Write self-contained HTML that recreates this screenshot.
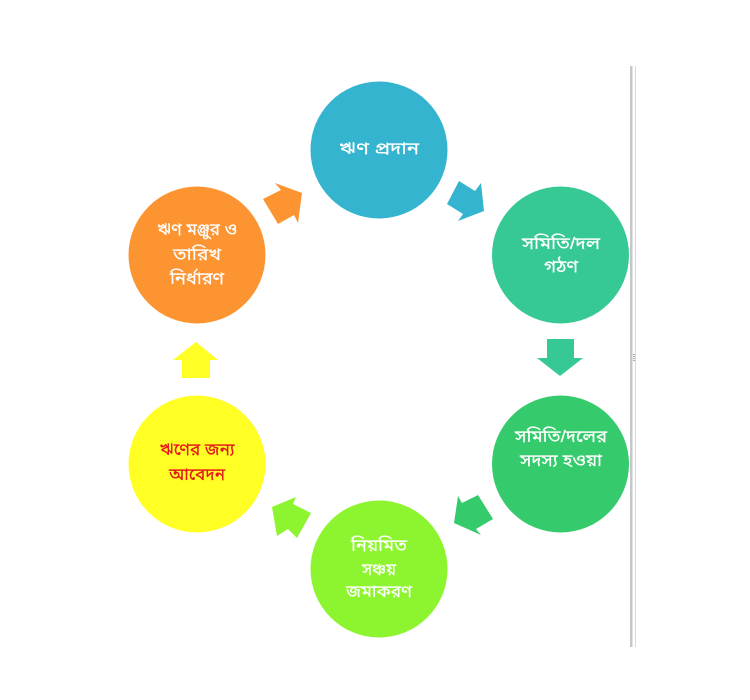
<!DOCTYPE html>
<html><head><meta charset="utf-8"><style>
html,body{margin:0;padding:0;background:#fff;width:750px;height:700px;overflow:hidden}
svg{display:block}
text{font-family:"Liberation Sans","Noto Sans Bengali","Lohit Bengali","Noto Sans CJK SC",sans-serif;font-size:17px;text-anchor:middle;fill:#fff;stroke:#fff;stroke-width:.2px}
.r{fill:#E5171C;stroke:#E5171C}
</style></head><body>
<svg width="750" height="700" viewBox="0 0 750 700" xmlns="http://www.w3.org/2000/svg">
<rect width="750" height="700" fill="#fff"/>
<rect x="630" y="66" width="2.5" height="581" fill="#c4c8c8"/>
<rect x="635" y="66" width="1" height="581" fill="#d4dada"/>
<g fill="#a8acac"><rect x="633" y="354" width="2" height="1"/><rect x="633" y="356" width="2" height="1"/><rect x="633" y="358" width="2" height="1"/><rect x="633" y="360" width="2" height="1"/></g>
<circle cx="379" cy="150" r="68.5" fill="#35B4D0"/>
<circle cx="560.5" cy="255" r="68.5" fill="#37C994"/>
<circle cx="560.5" cy="464" r="68.5" fill="#35CB6C"/>
<circle cx="379" cy="569" r="68.5" fill="#8DF52F"/>
<circle cx="197" cy="464" r="68.5" fill="#FFFF26"/>
<circle cx="197" cy="255" r="68.5" fill="#FD9432"/>
<polygon points="459,181 475,191 481,183 484,211 458,221 463,214 447,204" fill="#35B4D0"/>
<polygon points="547,339 574,339 574,358 583,358 560,376 537,358 547,358" fill="#37C994"/>
<polygon points="458,496 462,503 478,495 493,519 476,529 481,535 454,523" fill="#35CB6C"/>
<polygon points="272,507 296,497 293,504 311,513 297,538 288,529 277,536" fill="#8DF52F"/>
<polygon points="196,342 218,360 210,360 210,378 182,378 182,360 173,360" fill="#FFFF26"/>
<polygon points="263,199 281,190 275,183 302,193 298,223 294,215 278,224" fill="#FD9432"/>
<text x="379" y="154" textLength="80" lengthAdjust="spacingAndGlyphs">ঋণ প্রদান</text>
<text x="561" y="249" textLength="78" lengthAdjust="spacingAndGlyphs">সমিতি/দল</text>
<text x="561" y="272" textLength="34" lengthAdjust="spacingAndGlyphs">গঠণ</text>
<text x="561" y="442" textLength="92" lengthAdjust="spacingAndGlyphs">সমিতি/দলের</text>
<text x="561" y="466" textLength="82" lengthAdjust="spacingAndGlyphs">সদস্য হওয়া</text>
<text x="379" y="551" textLength="56" lengthAdjust="spacingAndGlyphs">নিয়মিত</text>
<text x="379" y="575" textLength="34" lengthAdjust="spacingAndGlyphs">সঞ্চয়</text>
<text x="379" y="597" textLength="66" lengthAdjust="spacingAndGlyphs">জমাকরণ</text>
<text class="r" x="197" y="455" textLength="75" lengthAdjust="spacingAndGlyphs">ঋণের জন্য</text>
<text class="r" x="197" y="480" textLength="56" lengthAdjust="spacingAndGlyphs">আবেদন</text>
<text x="197" y="235" textLength="80" lengthAdjust="spacingAndGlyphs">ঋণ মঞ্জুর ও</text>
<text x="197" y="260" textLength="48" lengthAdjust="spacingAndGlyphs">তারিখ</text>
<text x="197" y="284" textLength="54" lengthAdjust="spacingAndGlyphs">নির্ধারণ</text>
</svg>
</body></html>
